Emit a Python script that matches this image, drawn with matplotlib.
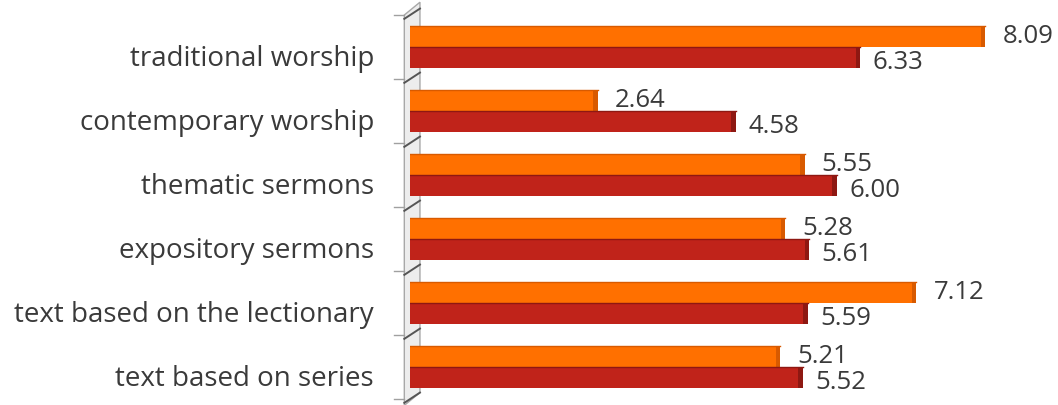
import numpy as np
import matplotlib.pyplot as plt
from matplotlib.patches import Rectangle, Polygon

plt.rcParams["font.family"] = ["Open Sans", "DejaVu Sans"]

categories = [
    "traditional worship",
    "contemporary worship",
    "thematic sermons",
    "expository sermons",
    "text based on the lectionary",
    "text based on series",
]
orange_vals = [8.09, 2.64, 5.55, 5.28, 7.12, 5.21]
red_vals = [6.33, 4.58, 6.00, 5.61, 5.59, 5.52]

orange = "#FF7000"
orange_dark = "#D85A00"
red = "#C0231A"
red_dark = "#8E1812"
label_color = "#3A3A3A"

fig = plt.figure(figsize=(10.58, 4.06), dpi=100)
ax = fig.add_axes([410 / 1058, 6 / 406, 640 / 1058, 384 / 406])

y = np.arange(len(categories))
h = 0.33
cap = 0.06

# orange on top, red below within each group
for yi, ov, rv in zip(y, orange_vals, red_vals):
    for val, yc, col, dark in [(ov, yi - h / 2, orange, orange_dark),
                               (rv, yi + h / 2, red, red_dark)]:
        ax.barh(yc, val, height=h, color=col, edgecolor="none", zorder=2)
        # 3d look: darker end face and top rim
        ax.add_patch(Rectangle((val - cap, yc - h / 2), cap, h,
                               color=dark, zorder=3, lw=0))
        ax.plot([0, val], [yc - h / 2, yc - h / 2], color=dark, lw=1.0, zorder=3)

for yi, ov, rv in zip(y, orange_vals, red_vals):
    ax.text(ov + 0.24, yi - h / 2 - 0.01, f"{ov:.2f}", va="center", ha="left",
            fontsize=18.5, color=label_color, zorder=4)
    ax.text(rv + 0.18, yi + h / 2 + 0.06, f"{rv:.2f}", va="center", ha="left",
            fontsize=18.5, color=label_color, zorder=4)

ax.set_xlim(0, 9)
ax.set_ylim(len(categories) - 0.5, -0.5)
# category labels sit a little below the group centre
ax.set_yticks(y + 0.12)
ax.set_yticklabels(categories, fontsize=20, color=label_color)
ax.tick_params(axis="y", length=0, pad=26)
ax.set_xticks([])
for s in ax.spines.values():
    s.set_visible(False)

# the grey side wall of the 3d chart
wall_l = -0.08
wall_r = 0.02
bottom = len(categories) - 0.5 + 0.1
top = -0.5
ax.add_patch(Polygon([(wall_l, bottom), (wall_l, top), (wall_r + 0.12, top - 0.2),
                      (wall_r + 0.12, bottom - 0.2)],
                     closed=True, facecolor="#EDEDED", edgecolor="#A8A8A8",
                     lw=1.0, clip_on=False, zorder=1))
for b in np.arange(-0.5, len(categories), 1.0):
    ax.plot([wall_l - 0.14, wall_l], [b, b], color="#A0A0A0", lw=1.0,
            clip_on=False, zorder=1)
    ax.plot([wall_l, wall_r + 0.12], [b + 0.06, b - 0.1], color="#555555", lw=1.4,
            clip_on=False, zorder=1)

fig.savefig("out.png", dpi=100)
